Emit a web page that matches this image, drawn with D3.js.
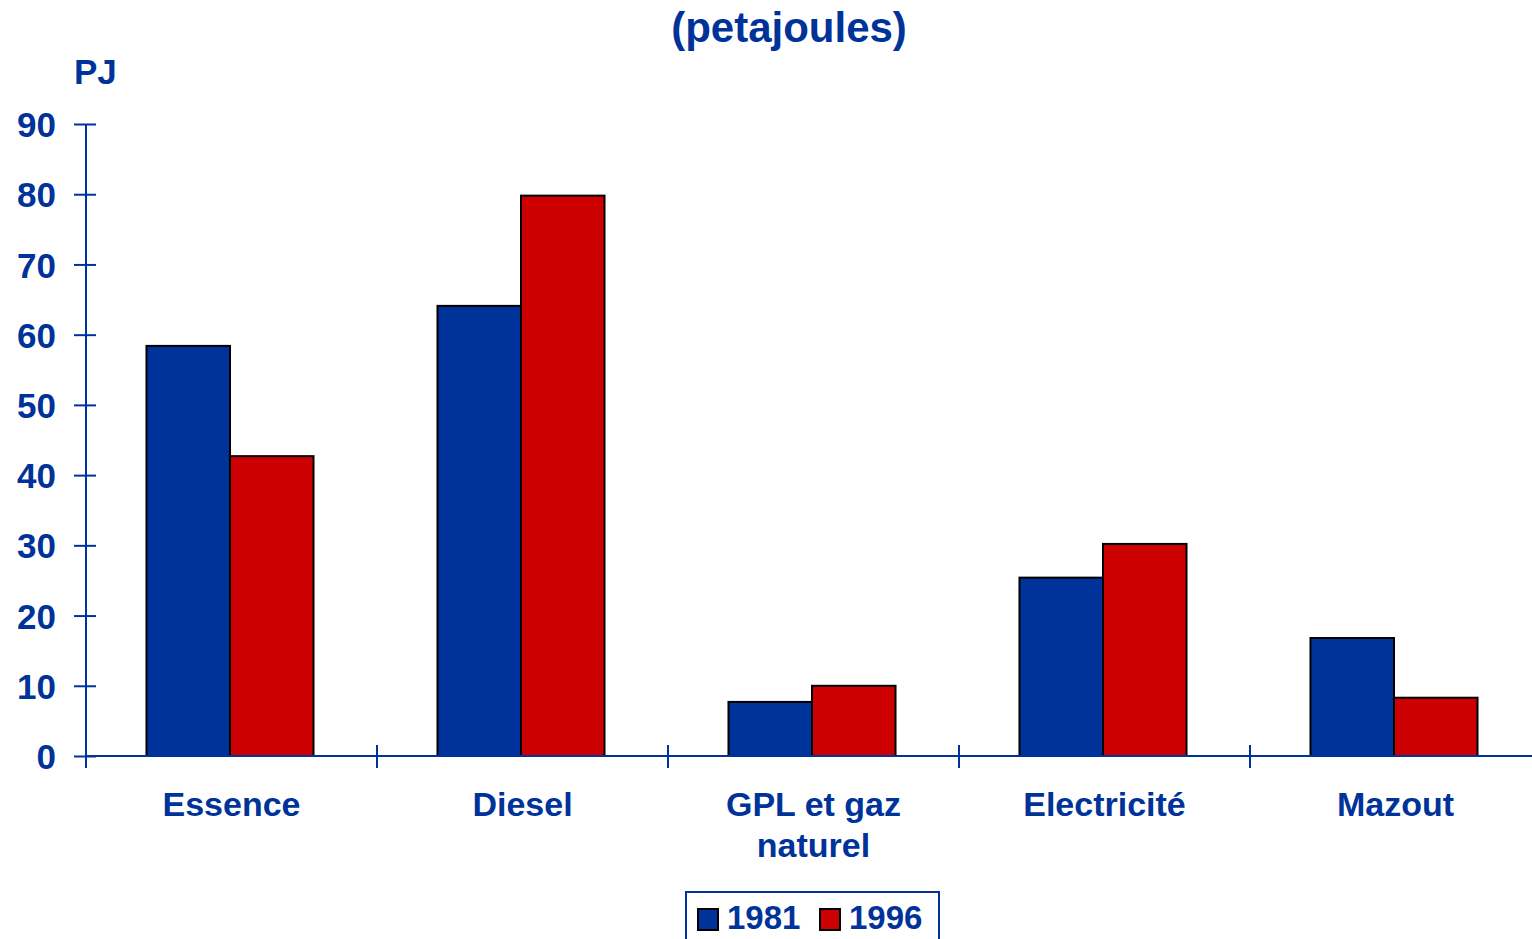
<!DOCTYPE html>
<html><head><meta charset="utf-8">
<script src="https://cdn.jsdelivr.net/npm/d3@7"></script>
<style>
html,body{margin:0;padding:0;background:#fff;}
svg{display:block;font-family:"Liberation Sans",Arial,sans-serif;font-weight:bold;}
</style></head>
<body>
<svg id="chart" width="1532" height="939"></svg>
<script>
const categories = [["Essence"], ["Diesel"], ["GPL et gaz", "naturel"], ["Electricité"], ["Mazout"]];
const seriesNames = ["1981", "1996"];
const values1981 = [58.4, 64.1, 7.7, 25.4, 16.8];
const values1996 = [42.7, 79.8, 10.0, 30.2, 8.3];
const yTicks = [0, 10, 20, 30, 40, 50, 60, 70, 80, 90];
const colors = ["#003399", "#CC0000"];
const axisColor = "#003399";

const svg = d3.select("#chart");
const catKeys = categories.map(c => c.join(" "));
const pIn = 0.426;
// category slots (for separators and labels)
const xc = d3.scaleBand().domain(catKeys).range([86, 1541]).padding(0);
// bar groups
const x0 = d3.scaleBand().domain(catKeys).range([84.5, 1539.5]).paddingInner(pIn).paddingOuter(pIn / 2);
const x1 = d3.scaleBand().domain(seriesNames).range([0, x0.bandwidth()]);
const y = d3.scaleLinear().domain([0, 90]).range([756, 124]);

const data = catKeys.map((k, i) => ({key: k, vals: [values1981[i], values1996[i]]}));

// bars
const g = svg.append("g");
g.selectAll("g.grp").data(data).join("g")
  .attr("transform", d => `translate(${x0(d.key)},0)`)
  .selectAll("rect").data(d => d.vals.map((v, j) => ({v, s: seriesNames[j], j})))
  .join("rect")
  .attr("x", d => x1(d.s))
  .attr("y", d => y(d.v))
  .attr("width", x1.bandwidth())
  .attr("height", d => y(0) - y(d.v))
  .attr("fill", d => colors[d.j])
  .attr("stroke", "#000")
  .attr("stroke-width", 2);

// y axis
const yAxis = svg.append("g").attr("transform", "translate(86,0)")
  .call(d3.axisLeft(y).tickValues(yTicks).tickSize(12).tickPadding(18));
yAxis.select(".domain").remove();
yAxis.append("line").attr("x1", 0).attr("x2", 0).attr("y1", y(90)).attr("y2", 768)
  .attr("stroke", axisColor).attr("stroke-width", 2);
yAxis.selectAll(".tick line").attr("x1", -12).attr("x2", 10).attr("stroke", axisColor).attr("stroke-width", 2);
yAxis.selectAll(".tick text").attr("fill", axisColor).attr("font-size", 35).attr("font-weight", "bold")
  .attr("font-family", '"Liberation Sans",Arial,sans-serif').attr("dy", "0.36em");

// x axis line
svg.append("line").attr("x1", 86).attr("x2", 1532).attr("y1", y(0)).attr("y2", y(0))
  .attr("stroke", axisColor).attr("stroke-width", 2);
// category separators
const seps = catKeys.slice(1).map(k => xc(k));
svg.selectAll("line.sep").data(seps).join("line")
  .attr("x1", d => d).attr("x2", d => d).attr("y1", y(0) - 11).attr("y2", y(0) + 12)
  .attr("stroke", axisColor).attr("stroke-width", 2);

// category labels
svg.selectAll("text.cat").data(categories).join("text")
  .attr("x", (d, i) => xc(catKeys[i]) + xc.bandwidth() / 2)
  .attr("y", 816)
  .attr("text-anchor", "middle").attr("fill", axisColor).attr("font-size", 34)
  .selectAll("tspan").data(d => d).join("tspan")
  .attr("x", function() { return d3.select(this.parentNode).attr("x"); })
  .attr("dy", (d, i) => i === 0 ? 0 : 41)
  .text(d => d);

// title & unit
svg.append("text").attr("x", 789).attr("y", 42).attr("text-anchor", "middle")
  .attr("fill", axisColor).attr("font-size", 42).text("(petajoules)");
svg.append("text").attr("x", 74).attr("y", 84).attr("fill", axisColor).attr("font-size", 35).text("PJ");

// legend
const lg = svg.append("g");
lg.append("rect").attr("x", 686).attr("y", 892).attr("width", 253).attr("height", 60)
  .attr("fill", "#fff").attr("stroke", axisColor).attr("stroke-width", 2);
const legX = [698, 820];
seriesNames.forEach((s, j) => {
  lg.append("rect").attr("x", legX[j]).attr("y", 909).attr("width", 20).attr("height", 21)
    .attr("fill", colors[j]).attr("stroke", "#000").attr("stroke-width", 2);
  lg.append("text").attr("x", legX[j] + 29).attr("y", 929).attr("fill", axisColor)
    .attr("font-size", 33).text(s);
});
</script>
</body></html>
